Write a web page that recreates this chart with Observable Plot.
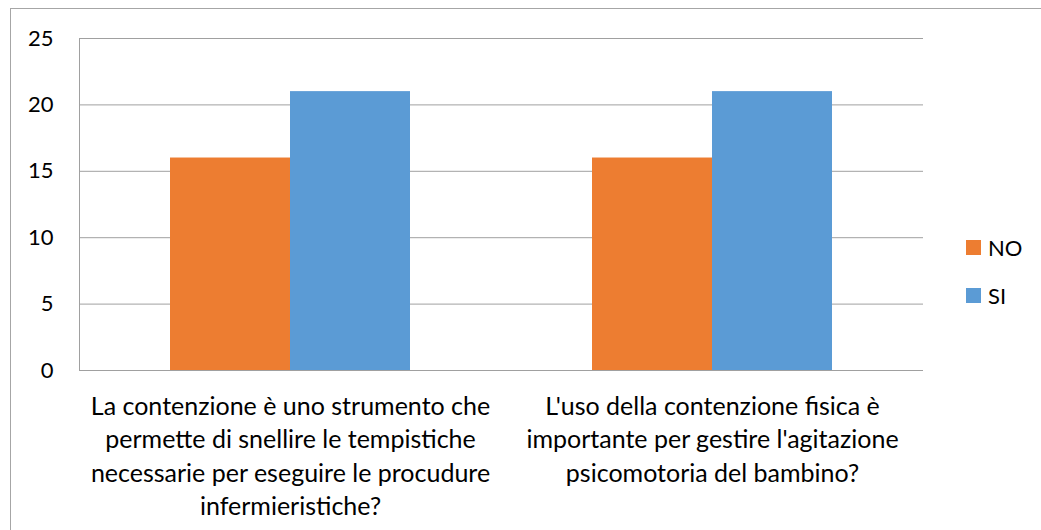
<!DOCTYPE html>
<html>
<head>
<meta charset="utf-8">
<script src="https://cdn.jsdelivr.net/npm/d3@7"></script>
<script src="https://cdn.jsdelivr.net/npm/@observablehq/plot@0.6"></script>
<style>
  html, body { margin: 0; padding: 0; background: #fff; }
  #wrap { position: relative; width: 1041px; height: 530px; overflow: hidden; background: #fff; }
  #border { position: absolute; left: 10px; top: 8px; width: 1100px; height: 600px; border: 1px solid #a6a6a6; box-sizing: border-box; }
  #chart { position: absolute; left: 0; top: 0; }
  #legend { position: absolute; left: 966px; top: 233px; font-family: Lato, sans-serif; font-size: 22px; color: #000; }
  .item { display: flex; align-items: center; height: 28px; margin-bottom: 20px; }
  .sw { width: 15px; height: 15px; margin-right: 7px; }
</style>
</head>
<body>
<div id="wrap">
  <div id="border"></div>
  <div id="chart"></div>
  <div id="legend"></div>
</div>
<script>
const questions = [
  "La contenzione è uno strumento che permette di snellire le tempistiche necessarie per eseguire le procudure infermieristiche?",
  "L'uso della contenzione fisica è importante per gestire l'agitazione psicomotoria del bambino?"
];
const questionLabels = [
  "La contenzione è uno strumento che\npermette di snellire le tempistiche\nnecessarie per eseguire le procudure\ninfermieristiche?",
  "L'uso della contenzione fisica è\nimportante per gestire l'agitazione\npsicomotoria del bambino?"
];
const series = ["NO", "SI"];
const noValues = [16, 16];
const siValues = [21, 21];
const colors = ["#ED7D31", "#5B9BD5"];
const yTicks = [0, 5, 10, 15, 20, 25];

const data = [];
questions.forEach((q, i) => {
  data.push({question: q, series: "NO", value: noValues[i]});
  data.push({question: q, series: "SI", value: siValues[i]});
});

const chart = Plot.plot({
  width: 1041,
  height: 530,
  marginLeft: 79,
  marginRight: 118,
  marginTop: 38,
  marginBottom: 160,
  style: {fontFamily: "Lato, sans-serif", fontSize: "22px", color: "#000", background: "transparent", overflow: "visible"},
  fx: {domain: questions, padding: 0, label: null},
  x: {domain: series, paddingInner: 0, paddingOuter: 0.755, axis: null, label: null},
  y: {domain: [0, 25], label: null},
  color: {domain: series, range: colors},
  marks: [
    Plot.gridY(yTicks, {stroke: "#a0a0a0", strokeOpacity: 1}),
    Plot.barY(data, {fx: "question", x: "series", y: "value", fill: "series"}),
    Plot.ruleY([0], {stroke: "#a0a0a0"}),
    Plot.frame({anchor: "left", facet: "super", stroke: "#a0a0a0"}),
    Plot.axisY(yTicks, {tickSize: 0, tickPadding: 26, fontSize: 22, label: null}),
    Plot.axisFx({anchor: "bottom", tickSize: 0, tickPadding: 21, fontSize: 25, lineHeight: 1.33,
      tickFormat: d => questionLabels[questions.indexOf(d)], label: null})
  ]
});
document.getElementById("chart").appendChild(chart);

const color = chart.scale("color");
const legend = document.getElementById("legend");
series.forEach((s, i) => {
  const item = document.createElement("div");
  item.className = "item";
  const sw = document.createElement("div");
  sw.className = "sw";
  sw.style.background = color.range[i];
  const t = document.createElement("span");
  t.textContent = s;
  item.appendChild(sw);
  item.appendChild(t);
  legend.appendChild(item);
});
</script>
</body>
</html>
